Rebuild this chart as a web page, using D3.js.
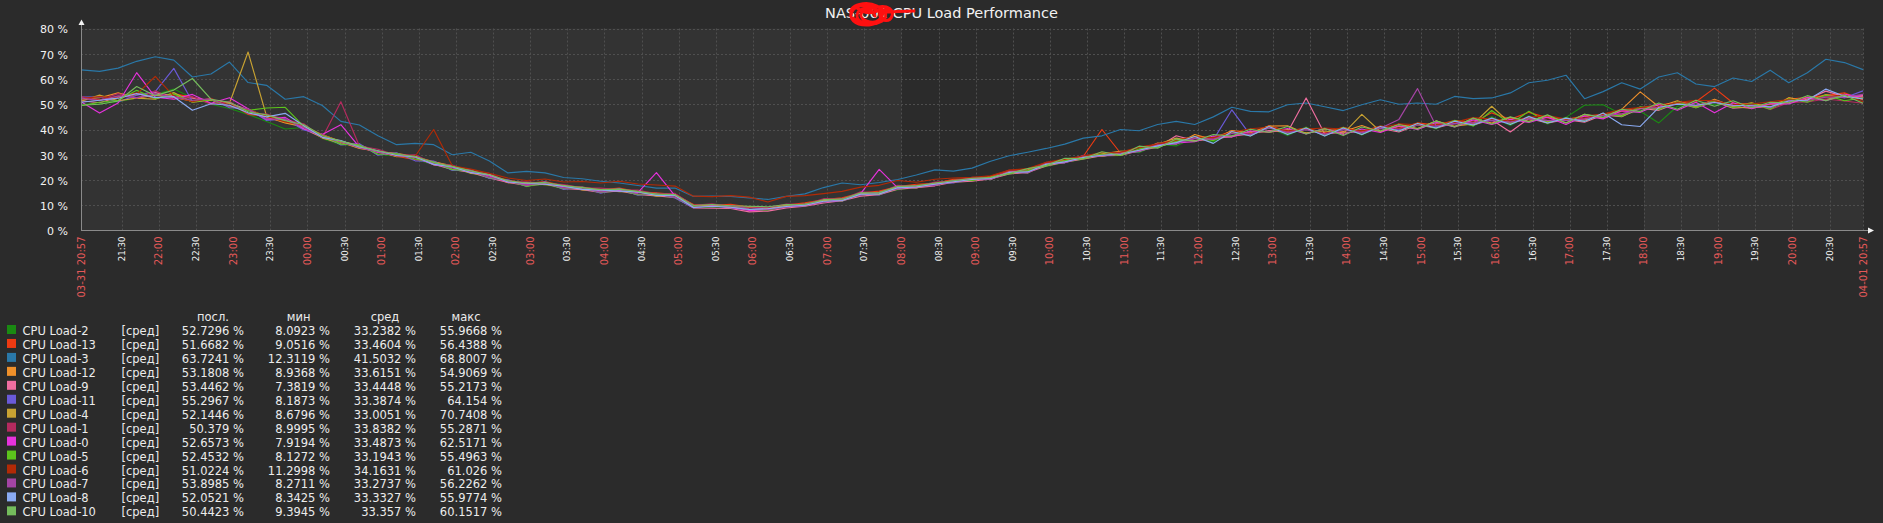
<!DOCTYPE html>
<html><head><meta charset="utf-8">
<script src="https://cdn.jsdelivr.net/npm/d3@7"></script>
<style>
html,body{margin:0;padding:0;background:#2b2b2b;}
svg{display:block;font-family:"DejaVu Sans",sans-serif;}
</style></head><body>
<svg id="chart" width="1883" height="523"></svg>
<script>
// ---------- data ----------
const chartTitle = "NAS-001 CPU Load Performance";
const yTicks = [0, 10, 20, 30, 40, 50, 60, 70, 80];
const startLabel = "03-31 20:57";
const endLabel = "04-01 20:57";
const sampleStepMinutes = 15;

const seriesNames = ["CPU Load-2","CPU Load-13","CPU Load-3","CPU Load-12","CPU Load-9","CPU Load-11","CPU Load-4","CPU Load-1","CPU Load-0","CPU Load-5","CPU Load-6","CPU Load-7","CPU Load-8","CPU Load-10"];
const seriesColors = ["#1A8A12","#EE3A12","#2A78A8","#F0902A","#F06EA0","#6A5AD8","#C8A232","#B42A5E","#E632DC","#5CC41C","#B22A06","#A444A4","#8AAAF2","#74BC5C"];
const statHeaders = ["посл.", "мин", "сред", "макс"];
const funcLabel = "[сред]";
const lastVals = [52.7296, 51.6682, 63.7241, 53.1808, 53.4462, 55.2967, 52.1446, 50.379, 52.6573, 52.4532, 51.0224, 53.8985, 52.0521, 50.4423];
const minVals  = [8.0923, 9.0516, 12.3119, 8.9368, 7.3819, 8.1873, 8.6796, 8.9995, 7.9194, 8.1272, 11.2998, 8.2711, 8.3425, 9.3945];
const avgVals  = [33.2382, 33.4604, 41.5032, 33.6151, 33.4448, 33.3874, 33.0051, 33.8382, 33.4873, 33.1943, 34.1631, 33.2737, 33.3327, 33.357];
const maxVals  = [55.9668, 56.4388, 68.8007, 54.9069, 55.2173, 64.154, 70.7408, 55.2871, 62.5171, 55.4963, 61.026, 56.2262, 55.9774, 60.1517];

const cpuLoad2 = [50.0,50.2,51.0,52.5,53.8,56.0,52.6,50.0,48.3,46.0,
 43.2,40.2,40.8,36.5,34.0,33.9,30.1,29.5,28.2,26.1,
 24.3,22.8,21.0,19.9,17.6,18.2,16.5,17.3,15.0,15.8,
 14.4,13.8,13.0,9.2,9.1,9.4,8.1,8.3,9.3,10.0,
 11.0,12.6,13.8,14.5,16.2,17.0,18.5,19.0,19.6,21.2,
 22.3,23.8,25.4,27.0,28.2,29.6,31.5,30.8,34.2,33.5,
 36.8,35.0,38.6,37.8,40.6,37.6,41.0,37.4,40.9,37.8,
 41.4,39.2,42.6,40.2,43.6,41.4,45.0,41.6,45.4,42.2,
 44.8,49.6,49.8,46.0,47.2,42.6,49.2,50.4,49.9,50.5,
 48.6,49.8,50.5,52.4,51.9,53.5,52.7];
const cpuLoad13 = [52.5,51.8,53.0,54.4,52.2,54.0,52.9,50.3,50.6,46.0,
 45.3,44.0,41.2,38.0,35.1,32.6,31.2,29.4,28.0,27.3,
 25.2,23.9,21.9,20.0,18.6,19.4,17.7,17.2,16.1,16.8,
 15.3,14.9,14.2,10.3,10.0,10.4,9.3,9.1,10.1,11.0,
 12.2,12.9,14.8,15.6,17.4,18.3,18.7,20.3,20.6,21.5,
 23.6,24.3,26.6,28.0,29.4,40.0,30.7,32.9,33.8,35.8,
 37.2,36.8,39.3,38.7,41.5,39.4,40.6,38.7,40.9,39.2,
 41.4,40.5,42.6,41.8,43.5,42.9,46.6,44.0,46.8,44.6,
 44.0,45.3,46.0,47.2,48.6,49.8,50.6,51.0,56.4,50.5,
 50.0,49.8,52.0,52.7,53.4,54.5,51.7];
const cpuLoad3 = [63.6,63.0,64.3,67.0,68.8,67.5,60.8,62.0,66.7,58.6,
 57.5,52.0,53.0,49.5,43.2,41.8,37.5,34.0,34.5,34.0,
 30.0,31.0,27.5,22.8,23.4,22.8,21.0,20.5,19.5,18.8,
 17.8,16.8,16.8,13.5,13.6,13.5,12.9,12.3,13.5,14.5,
 17.0,18.8,18.1,19.0,20.2,22.0,24.0,23.5,24.7,27.4,
 29.6,31.0,32.5,34.2,36.6,37.5,40.0,39.5,42.0,43.2,
 42.0,45.0,48.8,47.2,47.0,49.8,50.5,49.0,47.5,49.8,
 51.8,50.0,50.5,50.0,53.1,52.2,52.5,54.5,58.5,59.5,
 61.5,52.2,55.0,58.5,56.0,60.8,62.5,58.0,57.0,60.4,
 59.0,63.5,58.5,62.5,67.8,66.5,63.7];
const cpuLoad12 = [52.0,52.6,54.5,52.4,53.6,52.7,51.2,51.8,49.0,48.0,
 45.0,42.6,41.0,37.9,35.2,33.8,31.0,30.6,29.3,27.2,
 25.6,23.0,22.3,19.0,19.0,18.6,17.9,16.2,16.3,15.9,
 15.4,14.1,14.4,10.0,9.9,9.8,9.2,8.9,9.8,10.6,
 11.8,12.5,14.6,15.1,17.2,17.8,18.4,19.9,20.3,21.2,
 23.1,23.9,26.4,27.7,29.2,30.4,31.4,31.6,34.6,34.2,
 38.0,36.0,39.6,38.6,41.4,41.5,38.4,40.2,39.2,41.6,
 39.0,42.2,40.4,43.4,41.2,44.4,42.6,44.8,43.2,45.4,
 42.6,46.0,44.6,48.0,54.9,49.0,51.4,49.0,52.0,49.2,
 50.6,48.6,52.6,51.2,53.8,52.6,53.2];
const cpuLoad9 = [51.4,50.6,52.8,53.8,54.6,53.2,52.4,51.6,50.5,47.8,
 44.0,43.9,40.2,36.8,34.3,33.8,31.3,30.4,29.1,26.3,
 24.2,23.0,20.8,19.0,17.8,18.4,16.7,16.2,15.1,15.7,
 14.3,13.7,13.1,8.9,8.8,8.7,7.4,7.7,8.9,9.6,
 10.9,11.8,13.6,14.2,16.4,17.0,17.7,19.1,19.5,20.4,
 22.4,23.0,25.6,27.1,28.3,29.6,29.7,31.6,33.0,37.5,
 35.6,36.2,37.4,38.2,39.6,38.9,52.5,38.2,38.9,39.0,
 40.4,39.0,41.8,40.6,42.5,41.8,43.9,39.0,44.4,42.6,
 43.9,42.9,45.8,45.1,48.4,47.6,50.5,48.6,51.0,48.4,
 48.9,48.8,50.8,52.0,55.2,53.0,53.4];
const cpuLoad11 = [52.8,52.9,50.9,53.6,55.0,64.2,51.0,52.3,48.6,48.2,
 43.6,44.3,39.8,38.1,33.9,34.4,29.8,30.8,27.6,27.5,
 23.8,24.0,20.6,20.1,17.4,19.3,16.3,17.2,14.8,16.6,
 14.0,14.7,12.9,9.0,9.8,8.9,8.2,9.0,9.9,9.7,
 11.9,11.6,14.6,14.1,17.3,16.9,18.7,18.8,20.6,20.2,
 23.3,22.8,26.6,26.8,29.3,29.3,30.7,31.2,34.0,34.3,
 36.8,35.9,47.8,37.8,40.7,38.6,40.1,37.9,40.0,38.6,
 40.6,39.9,41.8,41.2,42.6,42.3,43.9,42.5,44.6,43.2,
 44.0,43.7,46.0,45.6,48.5,48.2,50.6,48.9,51.2,49.0,
 49.9,48.4,51.9,51.0,53.3,52.6,55.3];
const cpuLoad4 = [51.2,53.6,51.4,52.4,52.0,54.6,50.8,51.6,50.4,70.7,
 45.2,42.8,41.4,36.6,35.0,32.5,31.4,29.2,29.5,26.0,
 25.5,22.6,22.0,18.9,18.8,18.1,17.8,16.1,16.2,15.4,
 15.5,13.6,14.3,9.4,10.2,9.0,9.5,8.7,10.1,9.8,
 12.0,11.7,14.9,14.3,17.5,16.9,18.8,19.0,20.7,20.2,
 23.5,22.8,26.7,26.9,29.4,29.3,30.8,31.3,34.1,36.6,
 35.4,37.0,37.2,39.3,38.9,40.0,38.7,39.4,38.4,46.0,
 39.2,41.3,40.3,42.6,41.3,42.2,49.2,42.4,44.6,43.1,
 44.1,43.8,45.9,45.7,48.5,48.3,50.5,49.0,51.2,49.1,
 48.3,50.1,50.4,52.6,51.8,53.9,52.1];
const cpuLoad1 = [53.0,51.6,54.2,52.4,55.3,52.1,53.0,50.0,51.2,46.2,
 46.1,43.9,42.3,36.7,51.0,33.4,32.2,29.8,30.0,26.5,
 25.9,23.2,22.6,19.4,19.3,18.7,18.2,16.9,16.8,16.1,
 16.0,14.4,14.7,10.0,10.6,9.6,9.3,9.0,10.5,10.3,
 12.6,12.4,15.3,14.9,17.9,17.4,19.2,19.6,21.1,20.9,
 23.8,23.6,27.0,27.3,29.8,29.9,31.1,31.9,34.4,34.9,
 37.0,36.4,38.9,38.3,41.0,39.0,40.3,38.2,40.4,38.9,
 40.9,40.3,42.0,41.5,43.0,42.6,44.3,42.9,44.9,43.5,
 44.3,44.2,46.3,46.1,48.8,48.6,50.9,49.4,51.6,49.5,
 50.2,47.9,50.7,50.9,52.1,51.3,50.4];
const cpuLoad0 = [51.0,46.5,50.5,62.5,52.8,52.0,53.9,50.4,52.6,48.2,
 44.0,44.8,40.3,38.0,41.9,33.0,30.9,29.6,28.9,26.1,
 24.9,23.0,21.6,19.1,18.3,18.5,17.3,16.4,15.7,15.8,
 15.0,22.9,13.7,9.2,9.8,9.2,7.9,8.2,9.3,10.0,
 11.2,12.0,14.6,24.2,16.9,17.2,18.3,19.2,20.2,20.5,
 23.0,23.1,26.2,27.1,28.9,29.7,30.2,31.7,33.5,34.7,
 35.2,37.4,37.0,39.4,39.0,40.4,38.2,40.5,38.0,40.2,
 38.8,41.5,40.0,42.8,41.0,43.8,42.0,44.0,42.8,44.9,
 42.0,45.4,44.2,47.4,46.8,49.9,47.6,50.8,46.6,50.6,
 48.2,50.2,50.1,52.7,51.4,53.9,52.7];
const cpuLoad5 = [49.4,50.8,51.6,55.5,52.2,54.1,50.9,51.8,49.2,47.6,
 48.5,48.8,41.2,37.6,34.2,33.9,30.2,30.5,28.3,27.1,
 24.1,23.8,20.9,19.8,17.5,19.0,16.6,17.0,15.1,16.4,
 14.2,14.5,13.2,9.5,9.4,9.8,8.4,8.1,9.5,10.4,
 11.3,12.4,14.0,15.0,16.6,17.8,17.9,19.8,19.8,21.1,
 22.5,23.7,25.7,27.7,28.4,30.3,29.7,32.3,33.0,35.3,
 37.2,35.6,39.0,37.5,41.2,38.2,40.6,37.6,40.8,38.0,
 41.0,39.4,42.3,40.6,43.6,41.4,47.5,42.2,47.2,42.8,
 44.6,43.2,46.4,45.2,49.0,47.8,51.0,48.6,51.5,48.6,
 50.4,48.0,52.2,50.8,53.6,51.4,52.5];
const cpuLoad6 = [52.2,53.0,52.5,54.0,61.0,53.2,51.0,52.4,49.3,48.0,
 45.2,43.0,41.6,37.8,35.3,33.0,31.5,29.5,29.4,40.0,
 25.6,24.3,22.6,20.8,19.8,20.4,19.2,19.4,18.8,19.5,
 18.4,18.0,17.6,13.6,13.4,13.8,13.2,11.3,13.5,13.8,
 14.6,15.5,17.2,17.9,19.8,19.1,20.3,20.8,21.1,21.7,
 23.9,24.5,27.0,28.3,29.5,30.9,31.0,33.0,34.2,35.9,
 36.9,36.8,38.9,40.3,40.9,39.5,40.2,40.6,40.2,39.5,
 40.8,42.2,41.9,42.0,42.8,44.7,44.1,43.3,44.8,45.5,
 44.1,44.6,46.1,48.0,48.7,49.0,50.7,51.6,51.4,49.8,
 50.1,51.0,51.8,51.5,52.9,53.6,51.0];
const cpuLoad7 = [52.4,51.4,53.3,52.6,54.0,52.9,51.6,52.1,49.2,48.1,
 44.2,43.9,40.9,37.0,35.2,32.8,31.2,29.7,29.1,26.4,
 25.0,23.7,21.1,19.7,17.8,19.1,16.8,17.0,15.2,16.5,
 14.5,14.4,13.2,9.8,9.3,9.9,8.6,8.3,9.3,10.5,
 11.2,12.5,13.9,15.1,16.5,17.8,17.8,19.8,20.4,20.3,
 23.2,22.9,26.4,26.9,29.1,29.5,30.5,31.4,33.8,34.5,
 36.5,36.1,38.4,38.0,40.6,38.8,39.9,38.1,40.0,38.7,
 40.5,44.0,56.2,41.4,42.2,42.7,43.5,42.9,44.2,43.6,
 43.5,44.2,45.5,46.2,48.1,48.7,50.1,49.5,50.8,49.5,
 49.5,48.9,51.4,51.5,52.8,52.8,53.9];
const cpuLoad8 = [50.8,51.6,52.4,54.2,52.6,53.0,47.6,50.2,49.6,46.6,
 45.0,46.4,41.5,36.9,35.6,33.1,31.6,29.7,29.2,26.2,
 25.3,22.9,22.1,19.2,18.7,18.3,17.6,16.3,16.0,15.6,
 15.3,13.9,14.0,9.1,9.6,9.2,8.3,8.6,9.5,10.0,
 11.6,11.9,14.4,14.5,16.9,17.3,18.3,19.3,20.2,20.6,
 23.0,23.2,26.2,27.2,28.9,29.8,30.2,31.8,33.5,34.8,
 37.2,34.5,39.2,37.4,41.2,38.0,40.6,37.4,40.6,38.0,
 41.2,39.4,42.4,40.6,43.3,41.8,44.5,42.0,45.1,42.6,
 44.5,43.2,46.5,41.9,41.2,48.8,50.0,49.6,50.7,49.6,
 49.4,49.0,51.3,51.6,56.0,53.2,52.1];
const cpuLoad10 = [49.6,50.0,51.3,57.0,53.4,55.6,60.2,52.0,50.8,47.0,
 45.8,43.5,41.9,37.6,35.4,33.4,31.5,30.2,29.3,26.9,
 25.4,23.6,22.1,19.7,18.8,19.0,17.8,17.0,16.2,16.4,
 15.5,14.4,14.2,9.9,10.3,9.8,9.6,9.4,10.3,10.4,
 12.2,12.4,14.9,15.0,17.5,17.7,18.8,19.7,20.7,21.0,
 22.6,24.5,25.8,28.6,28.5,31.2,29.8,33.4,32.6,36.2,
 35.4,38.0,37.4,40.1,38.9,41.2,38.2,40.4,37.6,41.0,
 39.4,42.0,40.2,43.4,41.0,44.5,42.2,45.0,43.0,45.8,
 42.6,46.0,44.8,48.0,47.2,50.5,48.0,51.6,49.2,51.4,
 48.6,50.8,50.6,53.4,51.4,53.6,50.4];

const seriesValues = [cpuLoad2, cpuLoad13, cpuLoad3, cpuLoad12, cpuLoad9, cpuLoad11, cpuLoad4, cpuLoad1, cpuLoad0, cpuLoad5, cpuLoad6, cpuLoad7, cpuLoad8, cpuLoad10];

// ---------- chart ----------
const svg = d3.select("#chart");
const W = 1883, H = 523;
const plot = {left: 81, right: 1863, top: 28.5, bottom: 230.5};
const tStart = new Date(2020, 2, 31, 20, 57);
const tEnd = new Date(2020, 3, 1, 20, 57);
const x = d3.scaleTime().domain([tStart, tEnd]).range([plot.left, plot.right]);
const y = d3.scaleLinear().domain([0, 80]).range([plot.bottom, plot.top]);

svg.append("rect").attr("width", W).attr("height", H).attr("fill", "#2b2b2b");

// non-working time shading
const workStart = new Date(2020, 3, 1, 8, 0);
const workEnd = new Date(2020, 3, 1, 18, 0);
[[tStart, workStart], [workEnd, tEnd]].forEach(([a, b]) => {
  svg.append("rect").attr("x", x(a)).attr("y", plot.top)
    .attr("width", x(b) - x(a)).attr("height", plot.bottom - plot.top)
    .attr("fill", "#333333");
});

// grid
const gridTimes = d3.timeMinute.every(30).range(d3.timeMinute.offset(tStart, 10), tEnd);
const grid = svg.append("g").attr("stroke", "#4f4f4f").attr("stroke-dasharray", "2,2").attr("stroke-width", 1);
grid.selectAll("line.h").data(yTicks.filter(v => v > 0)).join("line")
  .attr("x1", plot.left).attr("x2", plot.right)
  .attr("y1", d => Math.round(y(d)) + 0.5).attr("y2", d => Math.round(y(d)) + 0.5);
grid.selectAll("line.v").data(gridTimes.concat([tEnd])).join("line")
  .attr("x1", d => Math.round(x(d)) + 0.5).attr("x2", d => Math.round(x(d)) + 0.5)
  .attr("y1", plot.top).attr("y2", plot.bottom);

// series lines
const times = cpuLoad3.map((_, i) => d3.timeMinute.offset(tStart, i * sampleStepMinutes));
const line = d3.line().x((d, i) => x(times[i])).y(d => y(d));
svg.append("g").selectAll("path").data(seriesValues).join("path")
  .attr("d", d => line(d))
  .attr("fill", "none")
  .attr("stroke", (d, i) => seriesColors[i])
  .attr("stroke-width", 1.15)
  .attr("stroke-linejoin", "round");

// axes lines
svg.append("line").attr("x1", 81.5).attr("x2", 81.5).attr("y1", 24).attr("y2", 231)
  .attr("stroke", "#8a8a8a");
svg.append("line").attr("x1", 81).attr("x2", 1868).attr("y1", 230.5).attr("y2", 230.5)
  .attr("stroke", "#8a8a8a");
svg.append("path").attr("d", "M81.5,19.5 L78.5,25 L84.5,25 Z").attr("fill", "#f2f2f2");
svg.append("path").attr("d", "M1874,230.5 L1868,227.5 L1868,233.5 Z").attr("fill", "#f2f2f2");

// y axis labels
const yAxis = svg.append("g").attr("transform", `translate(${plot.left},0)`)
  .call(d3.axisLeft(y).tickValues(yTicks).tickFormat(d => d + " %").tickSize(0).tickPadding(13));
yAxis.select(".domain").remove();
yAxis.selectAll("text").attr("fill", "#f2f2f2").attr("font-size", "11px")
  .attr("font-family", "DejaVu Sans").attr("dy", "0.4em");

// x axis labels
const labelTimes = gridTimes.filter(d => x(d) - x(tStart) > 20);
const fmt = d3.timeFormat("%H:%M");
const xl = svg.append("g");
const xLabelData = [{t: tStart, txt: startLabel, major: true}]
  .concat(labelTimes.map(t => ({t, txt: fmt(t), major: t.getMinutes() === 0})))
  .concat([{t: tEnd, txt: endLabel, major: true}]);
xl.selectAll("text").data(xLabelData).join("text")
  .attr("transform", d => `translate(${x(d.t)},236.5) rotate(-90)`)
  .attr("text-anchor", "end")
  .attr("dy", "0.35em")
  .attr("font-size", d => d.major ? "10px" : "8.6px")
  .attr("fill", d => d.major ? "#e45959" : "#f2f2f2")
  .text(d => d.txt);

// title
svg.append("text").attr("x", 941.5).attr("y", 17.5).attr("text-anchor", "middle")
  .attr("font-size", "14.5px").attr("fill", "#f2f2f2").text(chartTitle);
svg.append("path")
  .attr("d", "M851,14 C849,4 867,1 877,6 C887,11 883,24 869,25 C855,26 847,18 853,10 C859,3 879,4 885,12 C889,19 879,26 865,23 C853,20 855,9 867,8 C877,7 885,14 879,20 C873,25 859,20 861,14 C863,8 875,10 875,16 M853,18 C859,24 877,24 885,18 M857,8 C865,14 873,14 881,9 M878,7 C888,5 894,10 892,16 C890,22 882,22 880,16 C879,10 886,8 891,12 M884,12 L914,11")
  .attr("fill", "none").attr("stroke", "#ff1010").attr("stroke-width", 3)
  .attr("stroke-linecap", "round");

// legend
const rowH = 13.95;
const legend = svg.append("g").attr("font-size", "11.5px").attr("fill", "#ececec");
const headerX = [213, 298.7, 385, 466];
legend.selectAll("text.hdr").data(statHeaders).join("text").attr("class", "hdr")
  .attr("x", (d, i) => headerX[i]).attr("y", 320.5).attr("text-anchor", "middle").text(d => d);
const rows = legend.selectAll("g.row").data(seriesNames).join("g").attr("class", "row")
  .attr("transform", (d, i) => `translate(0,${i * rowH})`);
rows.append("rect").attr("x", 7).attr("y", 325).attr("width", 9).attr("height", 9)
  .attr("fill", (d, i) => seriesColors[i]);
rows.append("text").attr("x", 22.5).attr("y", 335).text(d => d);
rows.append("text").attr("x", 121.5).attr("y", 335).text(funcLabel);
const statCols = [lastVals, minVals, avgVals, maxVals];
const colRight = [244, 330, 416, 502];
statCols.forEach((arr, c) => {
  rows.append("text").attr("x", colRight[c]).attr("y", 335).attr("text-anchor", "end")
    .text((d, i) => arr[i] + " %");
});
</script>
</body></html>
